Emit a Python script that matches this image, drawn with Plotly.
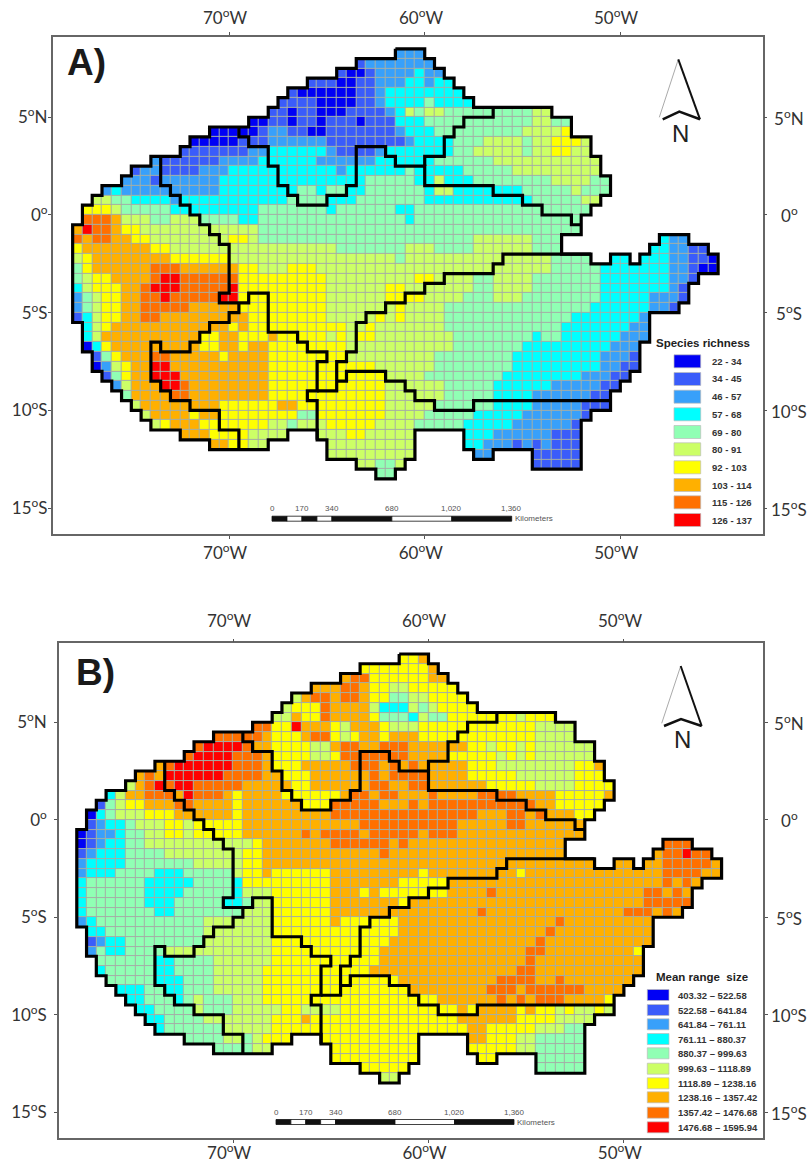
import plotly.graph_objects as go

W, H = 808, 1169
COLORS = ["#0000f5", "#3a5cfa", "#38a0fa", "#00ffff", "#90ffb4", "#ccff66", "#ffff00", "#ffb000", "#ff7000", "#ff0000"]
LABELS_A = ["22 - 34", "34 - 45", "46 - 57", "57 - 68", "69 - 80", "80 - 91", "92 - 103", "103 - 114", "115 - 126", "126 - 137"]
LABELS_B = ["403.32 – 522.58", "522.58 – 641.84", "641.84 – 761.11", "761.11 – 880.37", "880.37 – 999.63",
            "999.63 – 1118.89", "1118.89 – 1238.16", "1238.16 – 1357.42", "1357.42 – 1476.68", "1476.68 – 1595.94"]
LON_TICKS = [-70, -60, -50]
LON_TEXT = ["70<sup>o</sup>W", "60<sup>o</sup>W", "50<sup>o</sup>W"]
LAT_TICKS = [5, 0, -5, -10, -15]
LAT_TEXT = ["5<sup>o</sup>N", "0<sup>o</sup>", "5<sup>o</sup>S", "10<sup>o</sup>S", "15<sup>o</sup>S"]
SCALE_KM = [0, 170, 340, 680, 1020, 1360]
SCALE_TEXT = ["0", "170", "340", "680", "1,020", "1,360"]

# Each row: first column, then class:count runs ('.' is a gap), north to south on a half-degree grid.
RICHNESS = [
"33 2:3",
"29 1:1 2:7",
"27 1:1 0:2 1:1 2:4 3:1 2:2",
"24 1:3 0:2 1:2 2:3 3:2 2:1 3:2",
"22 1:1 0:6 1:2 2:1 3:8",
"21 1:4 0:4 1:2 2:1 3:4 4:1 3:4",
"20 1:2 0:1 1:2 0:3 1:4 2:1 3:1 5:1 4:1 5:2 4:9 5:2",
"18 0:2 1:2 0:1 1:2 0:1 1:3 0:1 1:3 3:3 4:11 5:2 4:2",
"14 0:5 1:1 2:2 1:2 0:2 1:7 2:1 3:3 4:9 5:4 6:1",
"12 0:5 1:3 2:6 1:8 2:1 3:4 4:3 5:4 4:1 5:2 6:3 5:1",
"11 1:7 2:2 3:6 2:1 1:4 2:1 3:7 4:2 5:5 4:1 5:2 6:2 5:2",
"8 2:1 1:6 2:4 3:6 2:6 3:6 4:6 5:11",
"6 1:1 2:2 1:4 2:3 3:11 2:1 3:6 4:1 3:5 4:5 5:9",
"5 2:3 1:1 2:6 3:15 4:5 3:2 5:1 3:3 4:8 5:4 4:2",
"3 2:1 3:1 2:10 3:8 4:2 3:1 4:2 3:2 4:6 3:1 5:2 3:7 4:5 5:1 4:3",
"2 5:2 4:2 3:4 2:1 3:11 4:4 3:3 4:7 3:11 4:5 5:2",
"1 6:3 5:1 4:5 3:9 4:7 3:1 4:6 3:2 4:18",
"1 8:3 7:1 5:3 4:2 5:3 4:4 3:2 4:15 3:1 4:17",
"0 7:1 9:1 8:2 7:1 6:2 5:12 4:33",
"0 8:1 7:1 8:2 7:2 6:2 5:8 6:2 5:1 4:22 5:6 4:3 .:10 3:1 2:2",
"0 6:1 7:7 6:2 5:17 4:7 5:3 4:4 5:6 4:3 .:9 3:2 2:2 1:2",
"0 5:1 6:1 7:8 6:6 5:17 4:1 5:15 4:4 .:2 3:2 .:1 3:3 2:2 1:2 0:1",
"0 4:1 6:1 7:6 8:3 7:6 6:2 5:3 6:3 5:24 4:5 3:7 2:2 1:1 0:2",
"0 4:1 5:1 6:2 7:4 8:1 9:2 8:6 6:9 5:9 6:2 5:4 4:2 5:4 4:7 3:7 2:2 1:1",
"0 3:1 5:1 6:3 7:2 8:1 9:3 8:5 9:1 6:9 5:6 6:2 5:7 4:2 5:4 4:7 3:7 2:1 1:1",
"0 2:1 4:1 5:1 6:2 7:2 8:2 9:1 8:5 9:2 6:9 5:6 6:4 5:4 4:3 5:3 4:8 3:5 2:3 1:1",
"0 2:1 4:1 5:1 6:2 7:2 8:5 7:5 6:9 5:7 6:1 5:4 4:15 3:6 2:2 1:1",
"0 1:1 3:1 5:1 6:2 7:2 8:2 7:9 6:8 5:5 6:1 5:1 6:1 5:4 4:13 3:7 2:1",
"1 3:1 5:1 6:1 7:12 6:1 7:1 6:10 5:2 6:1 5:7 4:12 3:7 2:2",
"1 3:1 5:1 7:10 6:2 7:2 6:3 7:1 6:5 5:1 6:1 5:1 6:2 5:8 4:8 3:1 4:2 3:6 2:3",
"1 0:1 3:1 6:1 7:9 6:2 7:2 6:1 7:2 6:8 5:11 4:7 3:9 2:3",
"2 1:1 4:1 6:1 7:3 8:2 7:5 6:1 7:4 6:8 5:9 4:8 3:9 2:3 1:1",
"2 0:1 2:1 5:1 6:1 7:2 9:2 7:10 6:11 5:6 4:8 3:9 2:2 1:2",
"3 1:1 4:1 6:1 7:2 9:3 7:9 6:12 5:4 4:8 3:8 2:3 1:2",
"4 2:1 5:1 7:3 9:2 8:1 7:8 6:12 5:6 4:5 3:6 2:5 1:2",
"5 4:1 7:4 8:2 7:8 6:12 5:6 4:5 3:4 2:6 1:2",
"6 5:1 7:8 6:6 7:2 6:9 5:5 4:6 3:4 2:5 1:3",
"7 5:1 7:4 6:1 7:2 6:8 4:2 6:7 5:4 4:5 3:5 2:6 1:1",
"8 5:1 6:1 7:3 6:7 5:2 4:1 5:3 6:5 5:4 4:5 3:5 2:6 1:1",
"11 7:3 6:4 5:4 .:3 5:3 6:2 5:5 .:5 3:3 2:6 1:3",
"14 7:2 6:2 5:2 .:6 5:9 .:5 3:2 2:3 1:1 2:1 1:1 2:1 1:3",
"26 5:9 .:6 2:2 .:4 1:5",
"29 5:2 4:2 5:1 .:13 1:5",
"31 4:2",
]
RANGE_SIZE = [
"33 6:2 7:1",
"29 6:7 7:1",
"27 7:1 8:2 6:6 7:2",
"24 7:3 8:2 7:1 6:2 5:2 6:5",
"22 5:1 7:1 8:2 7:1 8:2 7:1 6:2 4:2 5:2 6:4",
"21 5:1 6:3 8:1 7:4 5:1 3:3 5:1 4:1 5:1 6:4",
"20 5:2 7:1 6:2 8:1 7:4 6:1 4:3 3:1 5:1 4:2 6:7 5:1 6:3",
"18 8:2 6:2 9:1 7:3 6:1 5:1 7:3 6:1 5:3 6:12 5:4",
"14 8:5 7:1 6:3 7:1 8:2 6:1 5:1 6:1 7:2 6:1 7:3 6:12 5:4",
"12 8:1 9:4 8:1 7:2 6:4 5:2 7:1 8:2 7:2 8:3 7:6 6:2 5:1 6:2 5:1 6:1 5:6",
"11 8:1 9:4 8:3 7:1 6:4 5:2 6:1 8:7 7:4 6:5 5:1 6:1 5:1 6:1 5:6",
"8 7:1 8:1 9:6 8:3 7:1 6:3 7:5 8:3 7:1 8:1 7:1 8:1 7:5 6:3 5:8 6:2 7:1",
"6 7:1 8:1 7:1 9:6 8:4 7:2 6:3 7:6 8:1 7:1 8:4 7:4 6:5 5:6 6:3",
"5 5:1 7:1 8:1 9:1 8:1 9:2 8:5 7:5 6:2 7:6 8:2 7:2 8:2 7:6 6:5 5:4 6:4",
"3 3:1 5:1 7:2 8:3 7:1 9:1 8:3 7:1 6:1 7:4 6:6 7:1 8:2 7:1 8:2 7:3 8:1 7:4 8:4 7:4 6:5 7:1",
"2 1:1 4:1 5:1 6:2 7:3 8:2 7:4 6:1 7:6 6:3 8:5 7:3 8:1 7:1 8:11 7:2 6:5",
"1 0:1 3:1 4:1 5:3 6:3 7:6 6:1 7:9 8:15 7:3 8:2 7:1 8:1 7:3 6:2",
"1 1:1 2:1 3:2 4:1 5:3 6:2 5:1 6:5 7:12 8:10 7:5 8:2 7:6",
"0 0:1 1:1 2:2 3:1 4:2 5:2 6:2 5:1 6:5 7:6 8:1 7:1 8:4 7:1 8:5 7:1 8:3 7:13",
"0 0:1 1:1 2:1 3:2 4:2 5:11 6:1 7:7 8:6 7:1 8:1 7:16 .:10 8:3",
"0 1:1 2:1 3:3 4:4 5:8 6:2 7:12 8:1 7:18 .:9 7:1 8:2 9:1 8:2",
"0 2:1 3:4 4:7 5:5 6:2 7:34 .:2 7:2 .:1 7:2 8:5 7:1",
"0 2:1 3:3 4:4 3:3 4:5 5:1 6:2 7:1 6:6 7:9 6:1 7:9 6:1 7:14 8:4 7:2",
"0 3:1 4:6 3:5 4:4 3:1 6:9 7:7 6:5 7:22 8:1 7:1 8:1 7:1",
"0 3:1 4:6 3:4 4:5 3:1 5:3 6:6 7:3 6:1 7:1 6:7 7:4 8:1 7:15 8:2 7:1 8:1 7:1",
"0 3:1 4:6 3:3 4:5 3:2 4:1 5:2 6:6 7:7 6:1 7:24 8:5",
"0 3:1 4:7 3:2 4:7 5:3 6:6 7:15 8:1 7:14 8:3 7:1 8:1 7:1",
"0 2:1 3:1 4:11 5:7 6:6 7:1 6:6 7:16 8:1 7:9",
"1 3:2 4:10 5:7 6:13 7:15 8:1 7:10",
"1 1:1 2:1 3:2 4:8 5:7 6:12 7:15 8:1 7:11",
"1 2:1 4:1 3:2 4:4 5:11 6:11 7:15 8:2 7:9 6:1",
"2 4:6 3:2 4:4 5:6 6:11 7:15 8:1 7:11",
"2 3:1 4:5 3:2 4:4 5:5 6:11 7:15 8:2 7:11",
"3 4:5 3:3 4:3 5:5 6:14 7:10 8:4 7:2 8:1 7:7",
"4 3:3 4:2 3:2 4:3 5:5 6:15 7:8 8:3 7:1 8:6 7:4",
"5 3:2 4:3 3:1 4:1 5:1 4:3 5:3 6:18 7:6 8:1 7:1 8:1 7:1 8:3 7:4 6:1",
"6 3:2 4:4 5:1 4:3 5:5 6:2 5:4 6:12 7:1 6:1 7:4 6:1 7:1 6:2 5:1 6:1 5:2 6:1 5:1",
"7 3:2 4:4 5:7 6:3 7:1 6:15 7:6 6:4 5:4",
"8 3:1 4:6 5:5 6:20 7:2 6:5 5:3 4:2",
"11 4:4 5:2 4:1 5:1 6:3 .:3 6:10 .:5 7:2 6:3 5:2 4:5",
"14 4:4 5:2 .:6 6:9 .:5 6:5 5:2 4:5",
"26 6:9 .:6 6:2 .:4 4:5",
"29 6:5 .:13 4:5",
"31 5:2",
]

# Interior ecoregion limits, as (column, row) corners of the half-degree grid.
LIMITS = [
    [(9,11),(9,14),(10,14),(10,15),(11,15),(11,16),(12,16),(12,17),(13,17),(13,18),(14,18),(14,19),(15,19),(15,20),(16,20),
     (16,25),(15,25),(15,26),(18,26),(18,25),(20,25),(20,29),(23,29),(23,30),(24,30),(24,31),(26,31),(26,32),(25,32),
     (25,35),(24,35),(24,36),(25,36),(25,40)],
    [(17,26),(17,27),(16,27),(16,28),(14,28),(14,29),(13,29),(13,30),(12,30),(12,31),(9,31),(9,30),(8,30),(8,34),(9,34),
     (9,35),(10,35),(10,36),(12,36),(12,37),(15,37),(15,39),(17,39),(17,41)],
    [(17,8),(17,9),(18,9),(18,10),(20,10),(20,12),(21,12),(21,14),(22,14),(22,15),(23,15),(23,16),(26,16),(26,15),(28,15),
     (28,14),(29,14),(29,10),(32,10),(32,11),(33,11),(33,12),(36,12),(36,14),(43,14),(43,15),(46,15),(46,16),(48,16),
     (48,17),(51,17),(51,18),(52,18)],
    [(36,12),(36,11),(38,11),(38,9),(39,9),(39,8),(40,8),(40,7),(43,7),(43,6)],
    [(53,21),(44,21),(44,22),(43,22),(43,23),(38,23),(38,24),(36,24),(36,25),(34,25),(34,26),(32,26),(32,27),(30,27),
     (30,28),(29,28),(29,31),(28,31),(28,32),(27,32),(27,35),(25,35)],
    [(27,34),(28,34),(28,33),(32,33),(32,34),(34,34),(34,35),(35,35),(35,36),(37,36),(37,37),(41,37),(41,36),(55,36)],
]


def decode(rows):
    grid = []
    for row in rows:
        parts = row.split()
        cells = [None] * int(parts[0])
        for run in parts[1:]:
            k, n = run.split(":")
            cells += [None if k == "." else int(k)] * int(n)
        assert len(cells) <= 66, row
        grid.append(cells + [None] * (66 - len(cells)))
    return grid


def outline(grid):
    filled = lambda r, c: 0 <= r < len(grid) and 0 <= c < 66 and grid[r][c] is not None
    nxt = {}
    for r in range(len(grid)):
        for c in range(66):
            if filled(r, c):
                if not filled(r - 1, c):
                    nxt.setdefault((c, r), []).append((c + 1, r))
                if not filled(r, c + 1):
                    nxt.setdefault((c + 1, r), []).append((c + 1, r + 1))
                if not filled(r + 1, c):
                    nxt.setdefault((c + 1, r + 1), []).append((c, r + 1))
                if not filled(r, c - 1):
                    nxt.setdefault((c, r + 1), []).append((c, r))
    loops = []
    while nxt:
        start = next(iter(nxt))
        cur, loop = start, [start]
        while cur in nxt:
            following = nxt[cur].pop()
            if not nxt[cur]:
                del nxt[cur]
            loop.append(following)
            cur = following
        loops.append(loop)
    return loops


lon_of = lambda c: -78 + 0.5 * c
lat_of = lambda r: 8.5 - 0.5 * r
px = lambda x: x / W
py = lambda y: 1 - y / H

COLORSCALE = []
for i, col in enumerate(COLORS):
    COLORSCALE += [[i / 10, col], [(i + 1) / 10, col]]

PANELS = [
    dict(rows=RICHNESS, ax="", frame=(52.7, 36.7, 762.7, 534), xr=[-79.02, -42.72], yr=[-16.32, 9.12], letter="A)", lx=65, ly=63,
         title="Species richness", tx=703, ty=343, labels=LABELS_A, sw=(674, 700.7), sh=13,
         sy=[361.3, 379, 396.7, 414.3, 432, 449.3, 467.3, 485, 502.3, 520], lb=710,
         arrow=[(678.3, 59.3), (659.3, 117.3), (700, 119.3), (679.3, 111.7), (662.7, 119.3)], n=(680, 133),
         bar=(272, 511.7, 518.7), top=16, right=789, xstand=0, ystand=-3),
    dict(rows=RANGE_SIZE, ax="2", frame=(59, 643.3, 763, 1138), xr=[-78.91, -42.88], yr=[-16.32, 9.05], letter="B)", lx=74, ly=672,
         title="Mean range  size", tx=702, ty=976.7, labels=LABELS_B, sw=(647.3, 669), sh=11,
         sy=[995, 1010, 1024.3, 1039, 1053.3, 1068.7, 1083.3, 1097.3, 1112.7, 1127.3], lb=676,
         arrow=[(680.7, 666), (661.7, 723.3), (701.7, 726), (681, 719), (664, 726)], n=(682.3, 740),
         bar=(276, 514, 1122), top=620, right=789, xstand=-4, ystand=4),
]

fig = go.Figure()
shapes, notes = [], []
TICKFONT = dict(family="Lato, Noto Sans, sans-serif", size=17, color="#333333")
CENTER = dict(xanchor="center", yanchor="middle", showarrow=False)
LEFT = dict(xanchor="left", yanchor="middle", showarrow=False)
for p in PANELS:
    xa, ya = "x" + p["ax"], "y" + p["ax"]
    grid = decode(p["rows"])
    lons = [lon_of(c + 0.5) for c in range(66)]
    lats = [lat_of(r + 0.5) for r in range(len(grid))]
    under = [[None if v is None else 1 for v in row] for row in grid]
    fig.add_trace(go.Heatmap(x=lons, y=lats, z=under, xaxis=xa, yaxis=ya, zmin=0, zmax=1, showscale=False,
                             colorscale=[[0, "#a4aea6"], [1, "#a4aea6"]], hoverinfo="skip"))
    fig.add_trace(go.Heatmap(x=lons, y=lats, z=grid, xaxis=xa, yaxis=ya, zmin=0, zmax=10, showscale=False,
                             colorscale=COLORSCALE, xgap=1, ygap=1, hoverinfo="skip"))
    for line in outline(grid) + LIMITS:
        fig.add_trace(go.Scatter(x=[lon_of(c) for c, r in line], y=[lat_of(r) for c, r in line], xaxis=xa, yaxis=ya,
                                 mode="lines", line=dict(color="black", width=3.2), hoverinfo="skip", showlegend=False))

    x0, y0, x1, y1 = p["frame"]
    common = dict(showgrid=False, zeroline=False, showline=True, mirror="allticks", linecolor="#666666", linewidth=1.5,
                  ticks="outside", ticklen=3, tickcolor="#555555", tickfont=TICKFONT)
    fig.update_layout({
        "xaxis" + p["ax"]: dict(common, domain=[px(x0), px(x1)], range=p["xr"], tickmode="array", tickvals=LON_TICKS,
                                ticktext=LON_TEXT, ticklabelstandoff=p["xstand"], ticklabelshift=-4, anchor=ya),
        "yaxis" + p["ax"]: dict(common, domain=[py(y1), py(y0)], range=p["yr"], tickmode="array", tickvals=LAT_TICKS,
                                ticktext=LAT_TEXT, ticklabelstandoff=p["ystand"], anchor=xa),
    })
    for v, t in zip(LON_TICKS, LON_TEXT):
        notes.append(dict(CENTER, x=v, xref=xa, xshift=-4, y=py(p["top"]), yref="paper", text=t, font=TICKFONT))
    for v, t in zip(LAT_TICKS, LAT_TEXT):
        notes.append(dict(CENTER, x=px(p["right"]), xref="paper", y=v, yref=ya, text=t, font=TICKFONT))

    notes.append(dict(LEFT, x=px(p["lx"]), y=py(p["ly"]), xref="paper", yref="paper", text="<b>%s</b>" % p["letter"],
                      font=dict(family="Liberation Sans", size=37, color="#1a1a1a")))
    notes.append(dict(CENTER, x=px(p["tx"]), y=py(p["ty"]), xref="paper", yref="paper", text="<b>%s</b>" % p["title"],
                      font=dict(family="Liberation Sans", size=11.5, color="#222222")))
    for col, lab, yy in zip(COLORS, p["labels"], p["sy"]):
        shapes.append(dict(type="rect", xref="paper", yref="paper", x0=px(p["sw"][0]), x1=px(p["sw"][1]),
                           y0=py(yy - p["sh"] / 2), y1=py(yy + p["sh"] / 2), fillcolor=col, line=dict(color="#bbbbbb", width=0.7)))
        notes.append(dict(LEFT, x=px(p["lb"]), y=py(yy), xref="paper", yref="paper", text="<b>%s</b>" % lab,
                          font=dict(family="Liberation Sans", size=9.5, color="#333333")))

    a, l, r_, m, b = p["arrow"]
    seg = lambda pts: "M " + " L ".join("%.5f %.5f" % (px(u), py(v)) for u, v in pts)
    shapes.append(dict(type="path", xref="paper", yref="paper", path=seg([a, l]), line=dict(color="#aaaaaa", width=1)))
    shapes.append(dict(type="path", xref="paper", yref="paper", path=seg([a, r_]), line=dict(color="#111111", width=2)))
    shapes.append(dict(type="path", xref="paper", yref="paper", path=seg([b, m, r_]), line=dict(color="#111111", width=2.5)))
    notes.append(dict(CENTER, x=px(p["n"][0]), y=py(p["n"][1]), xref="paper", yref="paper", text="N",
                      font=dict(family="Liberation Sans", size=24, color="#222222")))

    bx0, bx1, by = p["bar"]
    bar_x = lambda km: bx0 + (bx1 - bx0) * km / SCALE_KM[-1]
    parts = [0, 85, 170, 255, 340, 680, 1020, 1360]
    for i in range(len(parts) - 1):
        shapes.append(dict(type="rect", xref="paper", yref="paper", x0=px(bar_x(parts[i])), x1=px(bar_x(parts[i + 1])),
                           y0=py(by - 2.5), y1=py(by + 2.5), fillcolor="#111111" if i % 2 == 0 else "white",
                           line=dict(color="#111111", width=0.8)))
    for km, t in zip(SCALE_KM, SCALE_TEXT):
        notes.append(dict(CENTER, x=px(bar_x(km)), y=py(by - 10), xref="paper", yref="paper", text=t,
                          font=dict(family="Liberation Sans", size=8, color="#555555")))
    notes.append(dict(LEFT, x=px(bx1 + 1), y=py(by), xref="paper", yref="paper", text="Kilometers",
                      font=dict(family="Liberation Sans", size=8, color="#555555")))

fig.update_layout(width=W, height=H, autosize=False, margin=dict(l=0, r=0, t=0, b=0), paper_bgcolor="white",
                  plot_bgcolor="white", showlegend=False, shapes=shapes, annotations=notes)
fig.write_html("out.html", config={"displayModeBar": False}, post_script="document.body.style.margin='0';")
